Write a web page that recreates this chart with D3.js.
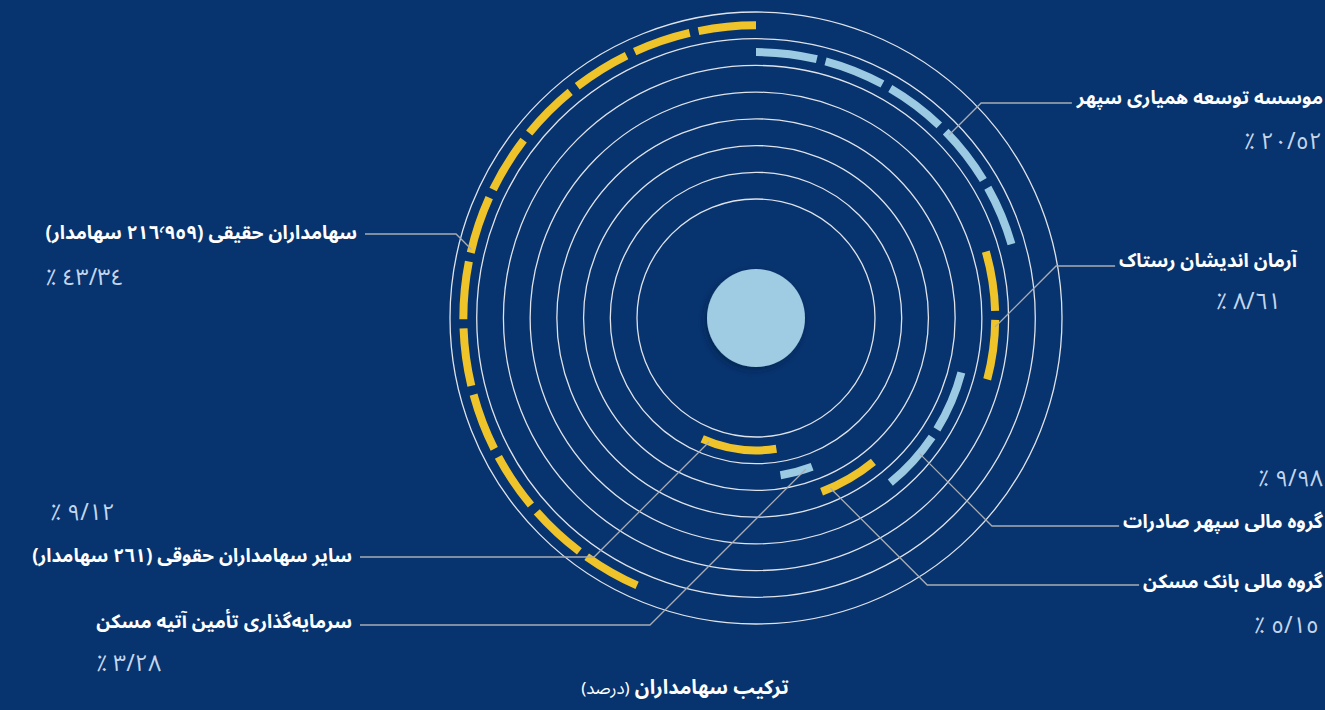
<!DOCTYPE html>
<html lang="fa">
<head>
<meta charset="utf-8">
<script src="https://cdn.jsdelivr.net/npm/d3@7"></script>
<style>
  html, body { margin: 0; padding: 0; background: #07336e; }
  svg { display: block; }
  .ar { font-family: "Noto Sans Arabic", "Noto Naskh Arabic", "DejaVu Sans", sans-serif; }
</style>
</head>
<body>
<svg id="chart" width="1325" height="710"></svg>
<script>
// ---------------- data ----------------
const categories = [
  "موسسه توسعه همیاری سپهر",
  "آرمان اندیشان رستاک",
  "گروه مالی سپهر صادرات",
  "گروه مالی بانک مسکن",
  "سرمایه‌گذاری تأمین آتیه مسکن",
  "سایر سهامداران حقوقی (٢٦١ سهامدار)",
  "سهامداران حقیقی (٢١٦٬٩٥٩ سهامدار)"
];
const shares = [20.52, 8.61, 9.98, 5.15, 3.28, 9.12, 43.34];
const title = "ترکیب سهامداران";
const unit = "(درصد)";

// ---------------- layout ----------------
const W = 1325, H = 710;
const cx = 756, cy = 318;
const ringCount = 8;
const ringR = d3.scaleLinear().domain([0, ringCount - 1]).range([119, 306]);
const BG = "#07336e", YELLOW = "#efc42a", BLUE = "#9ccae2";
const colour = d3.scaleOrdinal()
  .domain(categories)
  .range([BLUE, YELLOW, BLUE, YELLOW, BLUE, YELLOW, YELLOW]);

// ring band for each holder: largest holder outermost, others spiral inwards
const bandOf = (i) => i === shares.length - 1 ? ringCount - 1.5 : ringCount - 2.5 - i;

const pie = d3.pie().sort(null).value(d => d).startAngle(0).endAngle(2 * Math.PI);
const arcs = pie(shares);

// label placement (annotation layout only)
const labelLayout = [
  {side: "right", frac: 0.63, lineY: 103, nameX: 1323, nameY: 104, pctX: 1322, pctY: 149},
  {side: "right", frac: 0.59, lineY: 266, nameX: 1297, nameY: 267, pctX: 1281, pctY: 309},
  {side: "right", frac: 0.69, lineY: 526, nameX: 1323, nameY: 528, pctX: 1323, pctY: 486},
  {side: "right", frac: 0.84, lineY: 585, nameX: 1323, nameY: 588, pctX: 1319, pctY: 633},
  {side: "left",  frac: 0.20, lineY: 625, nameX: 352,  nameY: 628, pctDX: 0,  pctY: 671},
  {side: "left",  frac: 0.90, lineY: 557, nameX: 352,  nameY: 562, pctDX: 18, pctY: 520},
  {side: "left",  frac: 0.51, lineY: 234, nameX: 357,  nameY: 239, pctDX: 0,  pctY: 285}
];

const arabicDigits = s => s.replace(/[0-9]/g, d => "٠١٢٣٤٥٦٧٨٩"[+d]);
const fmtPct = v => "٪ " + arabicDigits(v.toFixed(2).replace(".", "/"));

// ---------------- drawing ----------------
const svg = d3.select("#chart");
svg.append("rect").attr("width", W).attr("height", H).attr("fill", BG);

const defs = svg.append("defs");
const f = defs.append("filter").attr("id", "sh").attr("x", "-30%").attr("y", "-30%").attr("width", "160%").attr("height", "160%");
f.append("feDropShadow").attr("dx", -2).attr("dy", 3).attr("stdDeviation", 3)
  .attr("flood-color", "#001a40").attr("flood-opacity", 0.55);

const g = svg.append("g").attr("transform", `translate(${cx},${cy})`);

// concentric rings
g.selectAll("circle.ring").data(d3.range(ringCount)).join("circle")
  .attr("class", "ring")
  .attr("r", d => ringR(d))
  .attr("fill", "none")
  .attr("stroke", "#dfe3ea")
  .attr("stroke-width", 1.3);

// centre disc
g.append("circle").attr("r", 49).attr("fill", "#9fcbe3").attr("filter", "url(#sh)");

// arcs (dashed, dashes fitted so both ends are whole dashes)
function arcPath(r, a0, a1) {
  const p = d3.path();
  p.arc(0, 0, r, a0 - Math.PI / 2, a1 - Math.PI / 2, false);
  return p.toString();
}
const GAP = 9, PERIOD = 66;
g.selectAll("path.share").data(arcs).join("path")
  .attr("class", "share")
  .attr("d", (d, i) => arcPath(ringR(bandOf(i)), d.startAngle, d.endAngle))
  .attr("fill", "none")
  .attr("stroke", (d, i) => colour(categories[i]))
  .attr("stroke-width", 8)
  .attr("stroke-dasharray", (d, i) => {
    const len = ringR(bandOf(i)) * (d.endAngle - d.startAngle);
    const n = Math.max(1, Math.round((len + GAP) / PERIOD));
    const dash = (len - (n - 1) * GAP) / n;
    return `${dash} ${GAP}`;
  });

// labels + leader lines
const lab = svg.append("g").attr("class", "labels");
arcs.forEach((d, i) => {
  const L = labelLayout[i];
  const r = ringR(bandOf(i));
  const a = d.startAngle + (d.endAngle - d.startAngle) * L.frac;
  const ax = cx + r * Math.sin(a), ay = cy - r * Math.cos(a);
  const dy = L.lineY - ay;
  const ex = ax + (L.side === "right" ? 1 : -1) * Math.abs(dy);

  const name = lab.append("text").attr("class", "ar")
    .attr("x", L.nameX).attr("y", L.nameY)
    .attr("direction", "rtl").attr("text-anchor", "start")
    .attr("fill", "#ffffff").attr("font-size", 19).attr("font-weight", "bold")
    .text(categories[i]);
  const bb = name.node().getBBox();

  const endX = L.side === "right" ? bb.x - 4 : bb.x + bb.width + 8;
  lab.insert("path", "text")
    .attr("d", `M${ax},${ay}L${ex},${L.lineY}L${endX},${L.lineY}`)
    .attr("fill", "none").attr("stroke", "#a9adb3").attr("stroke-width", 1.3);

  const pct = lab.append("text").attr("class", "ar")
    .attr("y", L.pctY)
    .attr("direction", "ltr")
    .attr("fill", "#c4d6ec").attr("font-size", 23)
    .attr("letter-spacing", 1.5)
    .text(fmtPct(shares[i]));
  if (L.side === "right") {
    pct.attr("x", L.pctX).attr("text-anchor", "end");
  } else {
    pct.attr("x", bb.x + L.pctDX).attr("text-anchor", "start");
  }
});

// title
const t = svg.append("text").attr("class", "ar")
  .attr("x", 685).attr("y", 694)
  .attr("direction", "rtl").attr("text-anchor", "middle")
  .attr("fill", "#ffffff");
t.append("tspan").attr("font-size", 20).attr("font-weight", "bold").text(title + " ");
t.append("tspan").attr("font-size", 17).text(unit);
</script>
</body>
</html>
